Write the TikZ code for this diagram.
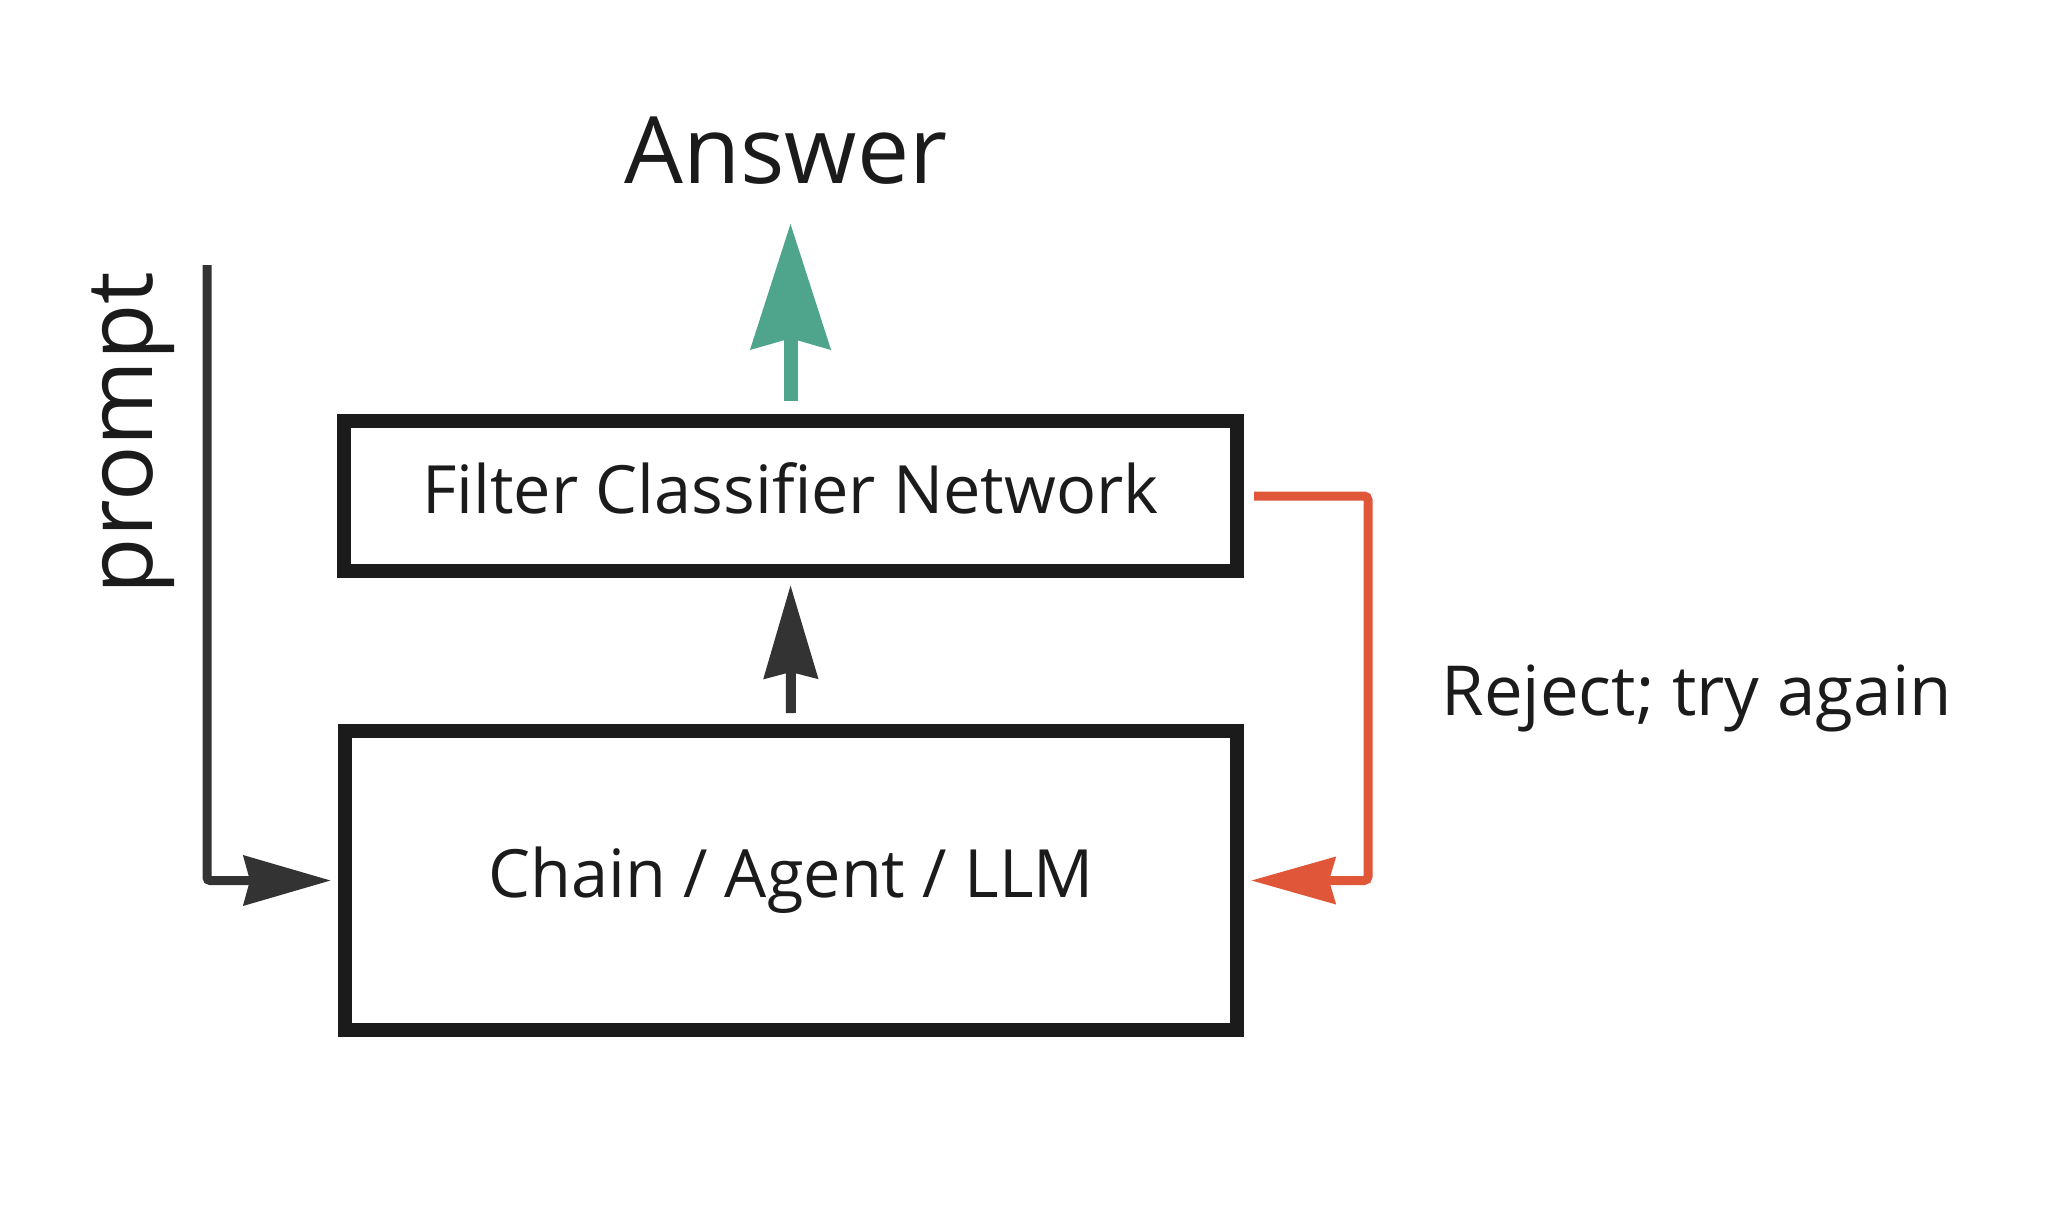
\documentclass[tikz,border=0pt]{standalone}
\usepackage{fontspec}
\setmainfont{Open Sans}
\usetikzlibrary{arrows.meta}
\definecolor{boxblack}{HTML}{1B1B1B}
\definecolor{arrgray}{HTML}{333333}
\definecolor{ansgreen}{HTML}{4FA58B}
\definecolor{rejred}{HTML}{E05638}
\tikzset{
  box/.style={draw=boxblack, line width=7pt, inner sep=0pt, text=boxblack,
    font=\fontsize{33.3pt}{40pt}\selectfont, text height=17.25pt, text depth=0pt},
  lbl/.style={inner sep=0pt, text=boxblack},
  greenarrow/.style={draw=ansgreen, line width=7pt,
    -{Stealth[length=62.5pt, width=39pt, inset=5pt, fill=ansgreen]}},
  midarrow/.style={draw=arrgray, line width=5pt,
    -{Stealth[length=46.5pt, width=26.5pt, inset=3pt, fill=arrgray]}},
  promptarrow/.style={draw=arrgray, line width=4.5pt, rounded corners=1.5pt,
    -{Stealth[length=43.5pt, width=24.5pt, inset=3pt, fill=arrgray]}},
  redarrow/.style={draw=rejred, line width=4.5pt, rounded corners=2pt,
    -{Stealth[length=42pt, width=23pt, inset=3pt, fill=rejred]}},
}
\begin{document}
\begin{tikzpicture}[x=0.5pt, y=-0.5pt]
\useasboundingbox (0,0) rectangle (2064,1220);

\node[box, minimum width=446.5pt, minimum height=75pt] (fil) at (790.5,496) {Filter Classifier Network};
\node[box, minimum width=446pt, minimum height=149.5pt] (chain) at (791,880.5) {Chain / Agent / LLM};

\node[lbl, anchor=base, font=\fontsize{46.5pt}{52pt}\selectfont] (ans) at (786,183) {Answer};
\node[lbl, anchor=base, rotate=90, font=\fontsize{46pt}{52pt}\selectfont] (prm) at (152,433) {prompt};
\node[lbl, anchor=base west, font=\fontsize{34.5pt}{40pt}\selectfont] (rej) at (1441,715) {Reject; try again};

\coordinate (ptop) at (207,265);
\coordinate (rbend) at (1368,496);

\draw[greenarrow, shorten <=6.5pt, shorten >=19.5pt] (fil.north) -- (fil.north |- ans.south);
\draw[midarrow, shorten <=5.5pt, shorten >=3.5pt] (chain.north) -- (fil.south);
\draw[promptarrow, shorten >=3.5pt] (ptop) |- (chain.west);
\draw[redarrow, shorten >=3.5pt] ([xshift=5pt]fil.east) -- (rbend) |- (chain.east);
\end{tikzpicture}
\end{document}
